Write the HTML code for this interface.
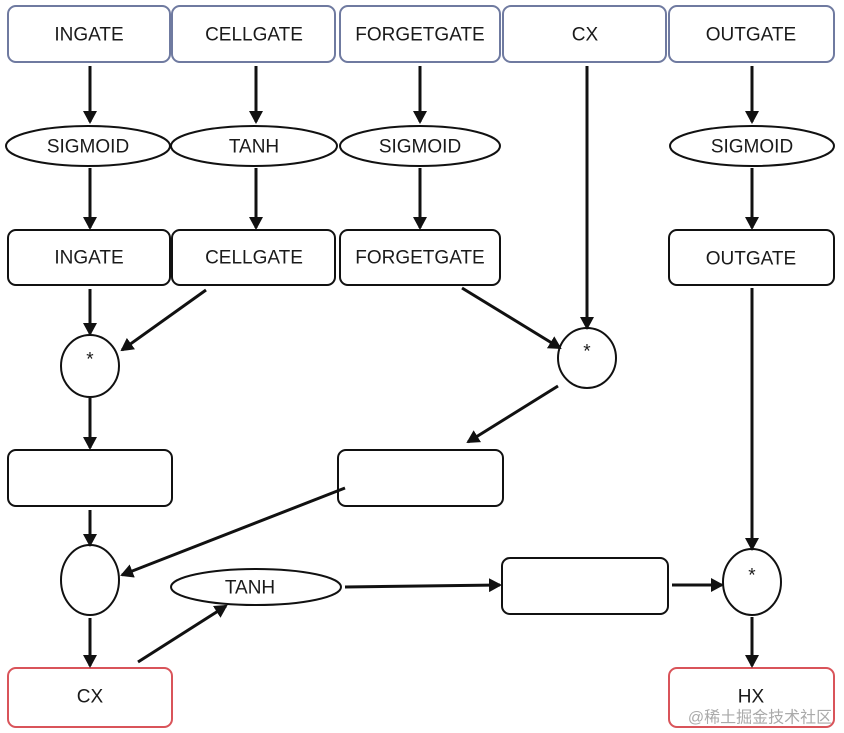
<!DOCTYPE html>
<html><head><meta charset="utf-8"><style>
html,body{margin:0;padding:0;background:#fff;width:844px;height:733px;overflow:hidden}
text{font-family:"Liberation Sans","Noto Sans CJK SC",sans-serif;font-size:19px;fill:#1a1a1a;text-anchor:middle;dominant-baseline:central}
</style></head><body>
<svg width="844" height="733" viewBox="0 0 844 733" xmlns="http://www.w3.org/2000/svg">
<defs><marker id="a" markerWidth="14" markerHeight="14" refX="11" refY="7" orient="auto" markerUnits="userSpaceOnUse"><path d="M0,0 L13,7 L0,14 Z" fill="#111"/></marker></defs>
<g fill="#fff" stroke-width="2">
<g stroke="#6f7aa0">
<rect x="8" y="6" width="162" height="56" rx="8"/>
<rect x="172" y="6" width="163" height="56" rx="8"/>
<rect x="340" y="6" width="160" height="56" rx="8"/>
<rect x="503" y="6" width="163" height="56" rx="8"/>
<rect x="669" y="6" width="165" height="56" rx="8"/>
</g>
<g stroke="#111">
<ellipse cx="88" cy="146" rx="82" ry="20"/>
<ellipse cx="254" cy="146" rx="83" ry="20"/>
<ellipse cx="420" cy="146" rx="80" ry="20"/>
<ellipse cx="752" cy="146" rx="82" ry="20"/>
<rect x="8" y="230" width="162" height="55" rx="8"/>
<rect x="172" y="230" width="163" height="55" rx="8"/>
<rect x="340" y="230" width="160" height="55" rx="8"/>
<rect x="669" y="230" width="165" height="55" rx="8"/>
<ellipse cx="90" cy="366" rx="29" ry="31"/>
<ellipse cx="587" cy="358" rx="29" ry="30"/>
<rect x="8" y="450" width="164" height="56" rx="8"/>
<rect x="338" y="450" width="165" height="56" rx="8"/>
<ellipse cx="90" cy="580" rx="29" ry="35"/>
<ellipse cx="256" cy="587" rx="85" ry="18"/>
<rect x="502" y="558" width="166" height="56" rx="8"/>
<ellipse cx="752" cy="582" rx="29" ry="33"/>
</g>
<g stroke="#d9545a">
<rect x="8" y="668" width="164" height="59" rx="8"/>
<rect x="669" y="668" width="165" height="59" rx="8"/>
</g>
</g>
<g stroke="#111" stroke-width="3" marker-end="url(#a)" fill="none">
<line x1="90" y1="66" x2="90" y2="122"/>
<line x1="256" y1="66" x2="256" y2="122"/>
<line x1="420" y1="66" x2="420" y2="122"/>
<line x1="752" y1="66" x2="752" y2="122"/>
<line x1="90" y1="168" x2="90" y2="228"/>
<line x1="256" y1="168" x2="256" y2="228"/>
<line x1="420" y1="168" x2="420" y2="228"/>
<line x1="752" y1="168" x2="752" y2="228"/>
<line x1="90" y1="289" x2="90" y2="334"/>
<line x1="206" y1="290" x2="122" y2="350"/>
<line x1="462" y1="288" x2="560" y2="348"/>
<line x1="587" y1="66" x2="587" y2="328"/>
<line x1="90" y1="398" x2="90" y2="448"/>
<line x1="558" y1="386" x2="468" y2="442"/>
<line x1="90" y1="510" x2="90" y2="545"/>
<line x1="345" y1="488" x2="122" y2="575"/>
<line x1="752" y1="288" x2="752" y2="549"/>
<line x1="90" y1="618" x2="90" y2="666"/>
<line x1="138" y1="662" x2="226" y2="606"/>
<line x1="345" y1="587" x2="500" y2="585"/>
<line x1="672" y1="585" x2="722" y2="585"/>
<line x1="752" y1="617" x2="752" y2="666"/>
</g>
<text x="89" y="35">INGATE</text>
<text x="254" y="35">CELLGATE</text>
<text x="420" y="35">FORGETGATE</text>
<text x="585" y="35">CX</text>
<text x="751" y="35">OUTGATE</text>
<text x="88" y="147">SIGMOID</text>
<text x="254" y="147">TANH</text>
<text x="420" y="147">SIGMOID</text>
<text x="752" y="147">SIGMOID</text>
<text x="89" y="258">INGATE</text>
<text x="254" y="258">CELLGATE</text>
<text x="420" y="258">FORGETGATE</text>
<text x="751" y="259">OUTGATE</text>
<text x="90" y="360">*</text>
<text x="587" y="352">*</text>
<text x="752" y="576">*</text>
<text x="250" y="588">TANH</text>
<text x="90" y="697">CX</text>
<text x="751" y="697">HX</text>
<text x="760" y="718" style="font-size:16px;fill:#aaa">@稀土掘金技术社区</text>
</svg>
</body></html>
